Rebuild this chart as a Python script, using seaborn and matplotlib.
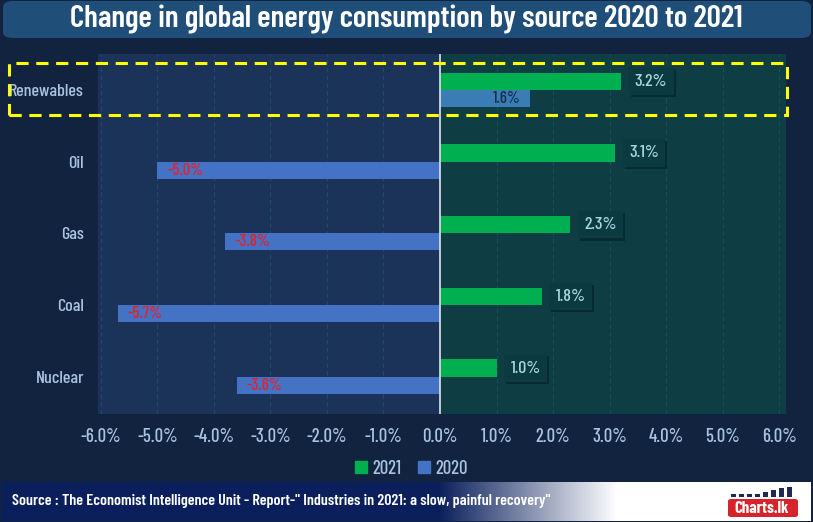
import matplotlib
matplotlib.use("Agg")
import matplotlib.pyplot as plt
import matplotlib.patheffects as pe
from matplotlib.patches import Rectangle, FancyBboxPatch
from matplotlib.lines import Line2D
import numpy as np
import pandas as pd
import seaborn as sns

# data
sources = ["Renewables", "Oil", "Gas", "Coal", "Nuclear"]
change_2021 = [3.2, 3.1, 2.3, 1.8, 1.0]
change_2020 = [1.6, -5.0, -3.8, -5.7, -3.6]
years = ["2021", "2020"]
x_ticks = [-6, -5, -4, -3, -2, -1, 0, 1, 2, 3, 4, 5, 6]

df = pd.DataFrame({
    "source": sources * 2,
    "year": ["2021"] * len(sources) + ["2020"] * len(sources),
    "change": change_2021 + change_2020,
})

GREEN = "#00b050"
BLUE = "#4472c4"
REN_BLUE = "#3a7db5"
BG = "#12233f"
LEFT_BG = "#1b3358"
RIGHT_BG = "#0e3d44"
TXT = "#a9c3df"

sns.set_theme(style="white")
plt.rcParams["font.family"] = ["Barlow Condensed", "DejaVu Sans"]
plt.rcParams["font.weight"] = 500

fig = plt.figure(figsize=(8.13, 5.22), dpi=100, facecolor=BG)
W, H = 813, 522

def fx(px):
    return px / W

def fy(py):
    return 1 - py / H

ax = fig.add_axes([fx(98), fy(414), fx(786) - fx(98), fy(54) - fy(414)])
ax.set_facecolor(LEFT_BG)

xmin, xmax = -6.05, 6.12
ax.axvspan(0, xmax, color=RIGHT_BG, zorder=0, lw=0)
for t in x_ticks:
    if t == 0:
        continue
    ax.axvline(t, color="#27466e" if t < 0 else "#155058", lw=0.8,
               ls=(0, (4, 3)), zorder=0.5)

sns.barplot(data=df, y="source", x="change", hue="year", hue_order=years,
            order=sources, palette=[GREEN, BLUE], orient="h", width=0.48,
            saturation=1, ax=ax, legend=False, zorder=2, linewidth=0)

# special colour for the renewables 2020 bar
bars_2020 = ax.containers[1]
bars_2020[0].set_facecolor(REN_BLUE)

ax.axvline(0, color="#dde4ee", lw=1.2, zorder=3)

# value labels 2021 (outside, dark box with a soft shadow)
for bar, v in zip(ax.containers[0], change_2021):
    yc = bar.get_y() + bar.get_height() / 2
    lab = ax.annotate(f"{v:.1f}%", (v, yc), xytext=(10, 0), textcoords="offset points",
                      ha="left", va="center", fontsize=13, fontweight=500, color="#a8d4e0",
                      bbox=dict(boxstyle="square,pad=0.35", fc="#0c3a41", ec="none"), zorder=4)
    lab.get_bbox_patch().set_path_effects([
        pe.SimplePatchShadow(offset=(1.5, -1.5), shadow_rgbFace="#082a30", alpha=0.9),
        pe.Normal()])

# value labels 2020 (inside bar)
for bar, v in zip(bars_2020, change_2020):
    yc = bar.get_y() + bar.get_height() / 2
    if v < 0:
        ax.annotate(f"{v:.1f}%", (v, yc), xytext=(7, 0), textcoords="offset points",
                    ha="left", va="center", fontsize=12, color="#e8202a", zorder=4)
    else:
        ax.annotate(f"{v:.1f}%", (v, yc), xytext=(-7, 0), textcoords="offset points",
                    ha="right", va="center", fontsize=12, color="#1a2e4a", zorder=4)

ax.set_xlim(xmin, xmax)
ax.set_ylim(4.52, -0.5)
ax.set_xticks(x_ticks)
ax.set_xticklabels([f"{t:.1f}%" for t in x_ticks], color=TXT, fontsize=13.5)
ax.tick_params(axis="x", length=0, pad=10)
ax.tick_params(axis="y", length=0, pad=10)
for lbl in ax.get_yticklabels():
    lbl.set_color(TXT)
    lbl.set_fontsize(13)
ax.set_xlabel("")
ax.set_ylabel("")
for s in ax.spines.values():
    s.set_visible(False)

# title banner
fig.patches.append(FancyBboxPatch((fx(3), fy(38)), fx(808), fy(1) - fy(38),
                                  boxstyle="round,pad=0,rounding_size=0.012",
                                  transform=fig.transFigure, fc="#1f4e79", ec="none"))
fig.text(0.5, fy(20), "Change in global energy consumption by source 2020 to 2021",
         ha="center", va="center", color="white", fontsize=22.5, fontweight=600)

# highlight box around renewables
fig.patches.append(Rectangle((fx(9), fy(115)), fx(787) - fx(9), fy(63) - fy(115),
                             transform=fig.transFigure, fill=False, ec="#ffff00",
                             lw=2.2, ls=(0, (4, 2.5)), zorder=10))

# legend
handles = [Line2D([], [], marker="s", ls="", color=GREEN, markersize=8),
           Line2D([], [], marker="s", ls="", color=BLUE, markersize=8)]
fig.legend(handles, years, loc="center", bbox_to_anchor=(0.505, fy(469)), ncol=2,
           frameon=False, labelcolor=TXT, fontsize=13.5, handletextpad=0.2,
           columnspacing=0.8, handlelength=0.8)

# footer with gradient
fax = fig.add_axes([fx(2), fy(521), fx(809), fy(482) - fy(521)])
grad = np.linspace(0, 1, 800)
c0 = np.array([0x0a, 0x1f, 0x5c]) / 255
c1 = np.array([1.0, 1.0, 1.0])
t = np.clip((grad - 0.54) / 0.22, 0, 1)
img = (c0[None, :] * (1 - t[:, None]) + c1[None, :] * t[:, None])[None, :, :]
fax.imshow(img, aspect="auto", extent=[0, 1, 0, 1])
fax.set_axis_off()
fax.text(0.012, 0.5, "Source : The Economist Intelligence Unit - Report-\" Industries in 2021: a slow, painful recovery\"",
         ha="left", va="center", color="white", fontsize=11.5, fontweight=600)

# logo
fig.patches.append(FancyBboxPatch((fx(728), fy(517)), fx(70), fy(499) - fy(517),
                                  boxstyle="round,pad=0,rounding_size=0.004",
                                  transform=fig.transFigure, fc="#d8232a", ec="none"))
fig.text(fx(762), fy(508.5), "Charts.lk", ha="center", va="center", color="white",
         fontsize=12, fontweight=700)
for i, hgt in enumerate([3, 3, 3, 3, 5, 7, 9, 10]):
    fig.patches.append(Rectangle((fx(731 + i * 8), fy(497)), fx(5), hgt / H,
                                 transform=fig.transFigure, fc="#1f2a55", ec="none"))

fig.savefig("out.png", dpi=100, facecolor=BG)
